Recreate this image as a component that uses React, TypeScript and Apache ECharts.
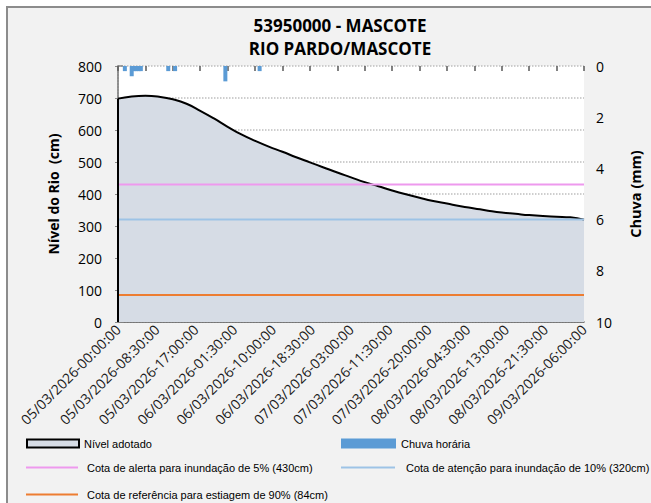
import React, { useEffect, useRef } from "react";
import * as echarts from "echarts";

// Hours since 05/03/2026 00:00
const levelHours = [0, 3, 6, 9, 12, 15, 18, 21, 24, 27, 30, 33, 36, 39, 42, 45, 48, 51, 54, 57, 60, 63, 66, 69, 72, 75, 78, 81, 84, 87, 90, 93, 96, 99, 102];
const levelValues = [698, 705, 707, 704, 696, 682, 660, 636, 610, 586, 566, 548, 532, 515, 499, 483, 467, 452, 437, 424, 411, 399, 388, 378, 370, 362, 355, 348, 342, 338, 334, 331, 329, 327, 320];

const rainHours = [1.5, 3, 3.5, 4, 4.5, 5, 11, 12.5, 23.5, 31];
const rainValues = [0.2, 0.4, 0.2, 0.2, 0.2, 0.2, 0.2, 0.2, 0.6, 0.2];

const alertLevel = 430;
const attentionLevel = 320;
const droughtLevel = 84;

const xStart = 0;
const xEnd = 102;
const labelStep = 8.5;
const tickStep = 6;

const leftTicks = { min: 0, max: 800, interval: 100 };
const rightTicks = { min: 0, max: 10, interval: 2 };

const titleLines = ["53950000 - MASCOTE", "RIO PARDO/MASCOTE"];
const seriesNames = {
  level: "Nível adotado",
  rain: "Chuva horária",
  alert: "Cota de alerta para inundação de 5% (430cm)",
  attention: "Cota de atenção para inundação de 10% (320cm)",
  drought: "Cota de referência para estiagem de 90% (84cm)",
};

const pad = (n: number) => (n < 10 ? "0" + n : "" + n);
const fmtHour = (v: number) => {
  const totalMin = Math.round(v * 60);
  const day = 5 + Math.floor(totalMin / 1440);
  const rem = totalMin % 1440;
  const hh = Math.floor(rem / 60);
  const mm = rem % 60;
  return `${pad(day)}/03/2026-${pad(hh)}:${pad(mm)}:00`;
};

const AXIS_FONT = "'Open Sans', sans-serif";
const LEG_FONT = "'Liberation Sans', Arial, sans-serif";

export default function App() {
  const ref = useRef<HTMLDivElement>(null);
  useEffect(() => {
    if (!ref.current) return;
    const chart = echarts.init(ref.current, undefined, { renderer: "svg" });
    const legendText = { fontFamily: LEG_FONT, fontSize: 11, color: "#000" };
    const titleStyle = { fontFamily: AXIS_FONT, fontSize: 17, fontWeight: "bold", color: "#000", lineHeight: 18 };
    const option: any = {
      animation: false,
      backgroundColor: "#ffffff",
      graphic: {
        elements: [
          {
            type: "rect",
            z: -100,
            shape: { x: 7, y: 7, width: 700, height: 600 },
            style: { fill: "#f2f2f2", stroke: "#8c8c8c", lineWidth: 2 },
            silent: true,
          },
        ],
      },
      title: [
        { text: titleLines[0], left: 340, textAlign: "center", top: 16, padding: 0, textStyle: titleStyle },
        { text: titleLines[1], left: 340, textAlign: "center", top: 39, padding: 0, textStyle: titleStyle },
      ],
      grid: {
        left: 118,
        right: 67,
        top: 66,
        bottom: 181,
        show: true,
        backgroundColor: "#ffffff",
        borderWidth: 0,
      },
      legend: [
        {
          left: 26, top: 438, padding: 0, itemWidth: 52, itemHeight: 8,
          data: [{ name: seriesNames.level, icon: "rect", itemStyle: { color: "#d6dce5", borderColor: "#000", borderWidth: 2 } }],
          textStyle: legendText,
        },
        {
          left: 341, top: 438, padding: 0, itemWidth: 55, itemHeight: 10,
          data: [{ name: seriesNames.rain, icon: "rect", itemStyle: { color: "#5b9bd5" } }],
          textStyle: legendText,
        },
        {
          left: 26, top: 462, padding: 0, itemWidth: 52, itemHeight: 2,
          data: [{ name: seriesNames.alert, icon: "rect", itemStyle: { color: "#ee99ee" } }],
          textStyle: { ...legendText, padding: [0, 0, 0, 4] },
        },
        {
          left: 341, top: 462, padding: 0, itemWidth: 54, itemHeight: 2,
          data: [{ name: seriesNames.attention, icon: "rect", itemStyle: { color: "#9dc3e6" } }],
          textStyle: { ...legendText, padding: [0, 0, 0, 6] },
        },
        {
          left: 26, top: 489, padding: 0, itemWidth: 52, itemHeight: 2,
          data: [{ name: seriesNames.drought, icon: "rect", itemStyle: { color: "#ed7d31" } }],
          textStyle: { ...legendText, padding: [0, 0, 0, 4] },
        },
      ],
      xAxis: [
        {
          type: "value",
          min: xStart,
          max: xEnd,
          interval: labelStep,
          position: "bottom",
          axisLine: { show: true, lineStyle: { color: "#595959", width: 1.5 } },
          axisTick: { show: false },
          splitLine: { show: false },
          axisLabel: {
            rotate: 45,
            margin: 5,
            fontFamily: AXIS_FONT,
            fontSize: 14,
            color: "#1a1a1a",
            formatter: (v: number) => fmtHour(v),
            showMinLabel: true,
            showMaxLabel: true,
          },
        },
        {
          type: "value",
          min: xStart,
          max: xEnd,
          interval: tickStep,
          position: "bottom",
          axisLine: { show: false },
          axisTick: { show: true, length: 5, lineStyle: { color: "#595959", width: 1.5 } },
          axisLabel: { show: false },
          splitLine: { show: false },
        },
      ],
      yAxis: [
        {
          type: "value",
          min: leftTicks.min,
          max: leftTicks.max,
          interval: leftTicks.interval,
          position: "left",
          name: "Nível do Rio  (cm)",
          nameLocation: "middle",
          nameGap: 58,
          nameRotate: 90,
          nameTextStyle: { fontFamily: AXIS_FONT, fontSize: 14, fontWeight: "bold", color: "#000" },
          axisLine: { show: true, lineStyle: { color: "#8c8c8c", type: "dotted", width: 1.5 } },
          axisTick: { show: true, length: 3, lineStyle: { color: "#8c8c8c" } },
          axisLabel: { margin: 16, fontFamily: AXIS_FONT, fontSize: 14, color: "#000" },
          splitLine: { show: true, lineStyle: { color: "#bfbfbf", type: "dotted", width: 1.5 } },
        },
        {
          type: "value",
          min: rightTicks.min,
          max: rightTicks.max,
          interval: rightTicks.interval,
          inverse: true,
          position: "right",
          name: "Chuva (mm)",
          nameLocation: "middle",
          nameGap: 44,
          nameRotate: 90,
          nameTextStyle: { fontFamily: AXIS_FONT, fontSize: 14.5, fontWeight: "bold", color: "#000" },
          axisLine: { show: true, lineStyle: { color: "#868686", width: 1.5 } },
          axisTick: { show: true, length: 5, lineStyle: { color: "#868686", width: 1.5 } },
          axisLabel: { margin: 12, fontFamily: AXIS_FONT, fontSize: 14, color: "#000" },
          splitLine: { show: false },
        },
      ],
      series: [
        {
          name: seriesNames.level,
          type: "line",
          xAxisIndex: 0,
          yAxisIndex: 0,
          data: levelHours.map((h, i) => [h, levelValues[i]]),
          smooth: 0.5,
          showSymbol: false,
          symbol: "none",
          itemStyle: { color: "#d6dce5" },
          lineStyle: { color: "#000", width: 2 },
          areaStyle: { color: "#d6dce5", opacity: 1 },
          z: 2,
        },
        {
          name: "edge",
          type: "line",
          xAxisIndex: 0,
          yAxisIndex: 0,
          data: [[levelHours[0], 0], [levelHours[0], levelValues[0]]],
          showSymbol: false,
          symbol: "none",
          lineStyle: { color: "#000", width: 2 },
          z: 4,
          silent: true,
        },
        {
          name: seriesNames.rain,
          type: "bar",
          xAxisIndex: 0,
          yAxisIndex: 1,
          data: rainHours.map((h, i) => [h, rainValues[i]]),
          barWidth: 4,
          itemStyle: { color: "#5b9bd5" },
          z: 3,
        },
        {
          name: seriesNames.alert,
          type: "line",
          xAxisIndex: 0,
          yAxisIndex: 0,
          data: [[xStart, alertLevel], [xEnd, alertLevel]],
          showSymbol: false,
          symbol: "none",
          itemStyle: { color: "#ee99ee" },
          lineStyle: { color: "#ee99ee", width: 2 },
          z: 3,
        },
        {
          name: seriesNames.attention,
          type: "line",
          xAxisIndex: 0,
          yAxisIndex: 0,
          data: [[xStart, attentionLevel], [xEnd, attentionLevel]],
          showSymbol: false,
          symbol: "none",
          itemStyle: { color: "#9dc3e6" },
          lineStyle: { color: "#9dc3e6", width: 2 },
          z: 3,
        },
        {
          name: seriesNames.drought,
          type: "line",
          xAxisIndex: 0,
          yAxisIndex: 0,
          data: [[xStart, droughtLevel], [xEnd, droughtLevel]],
          showSymbol: false,
          symbol: "none",
          itemStyle: { color: "#ed7d31" },
          lineStyle: { color: "#ed7d31", width: 2 },
          z: 3,
        },
      ],
    };
    chart.setOption(option);
    return () => chart.dispose();
  }, []);
  return (
    <div
      ref={ref}
      style={{ position: "absolute", left: 0, top: 0, width: 651, height: 503 }}
    />
  );
}
